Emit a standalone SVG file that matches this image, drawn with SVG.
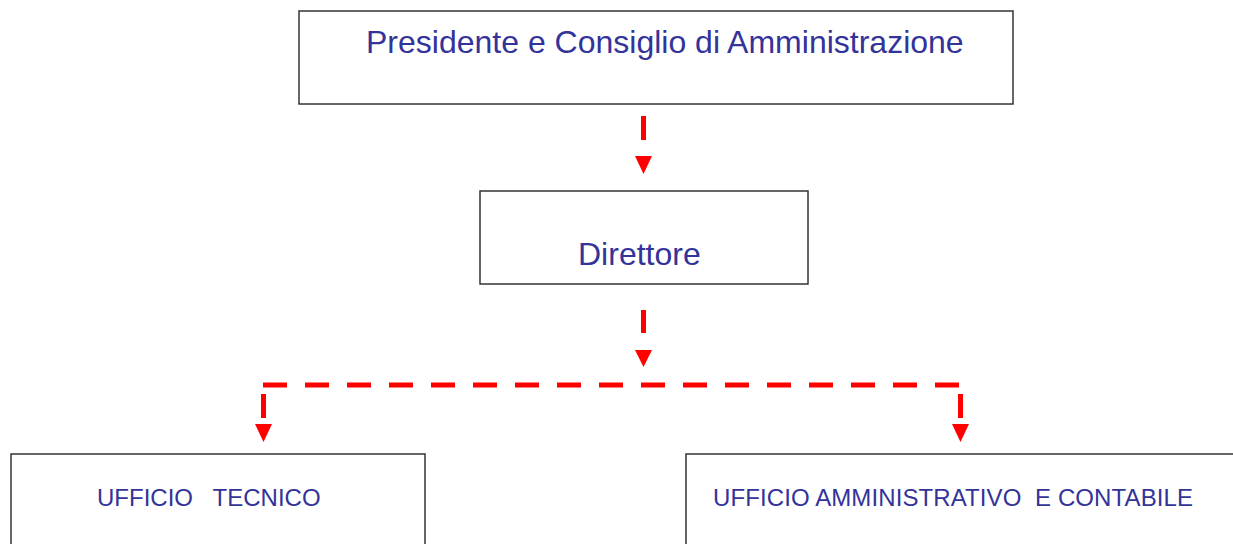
<svg xmlns="http://www.w3.org/2000/svg" width="1233" height="544" viewBox="0 0 1233 544">
<style>
.box{fill:#fff;stroke:#333333;stroke-width:1.5}
.t{font-family:"Liberation Sans",Arial,sans-serif;fill:#333399;white-space:pre}
.big{font-size:32px}
.sm{font-size:24px}
.dash{stroke:#ff0000;stroke-width:5;fill:none}
.head{fill:#ff0000}
</style>
<rect width="1233" height="544" fill="#fff"/>
<g id="presidente">
<rect class="box" x="299" y="11" width="714" height="93"/>
<text class="t big" x="366" y="53" xml:space="preserve">Presidente e Consiglio di Amministrazione</text>
</g>
<g id="direttore">
<rect class="box" x="480" y="191" width="328" height="93"/>
<text class="t big" x="578" y="265">Direttore</text>
</g>
<g id="ufficio-tecnico">
<rect class="box" x="11" y="454" width="414" height="100"/>
<text class="t sm" x="97" y="506" xml:space="preserve">UFFICIO   TECNICO</text>
</g>
<g id="ufficio-amministrativo">
<rect class="box" x="686" y="454" width="560" height="100"/>
<text class="t sm" x="713" y="506" xml:space="preserve" textLength="480" lengthAdjust="spacing">UFFICIO AMMINISTRATIVO  E CONTABILE</text>
</g>
<g id="connectors">
<line class="dash" x1="643.5" y1="116" x2="643.5" y2="140"/>
<polygon class="head" points="635,156 652,156 643.5,174"/>
<line class="dash" x1="643.5" y1="310" x2="643.5" y2="333"/>
<polygon class="head" points="635,350 652,350 643.5,367"/>
<line class="dash" x1="263" y1="385" x2="960" y2="385" stroke-dasharray="24 18"/>
<line class="dash" x1="263.5" y1="394" x2="263.5" y2="418"/>
<polygon class="head" points="255,424 272,424 263.5,442"/>
<line class="dash" x1="960.5" y1="394" x2="960.5" y2="418"/>
<polygon class="head" points="952,424 969,424 960.5,442"/>
</g>
</svg>
